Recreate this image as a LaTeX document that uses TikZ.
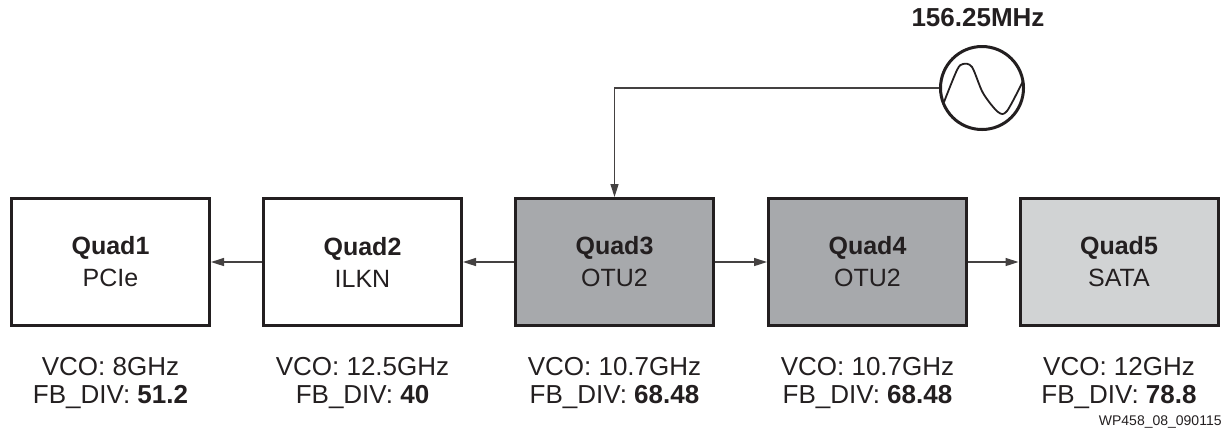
\documentclass[tikz,border=0pt]{standalone}
\usepackage{fontspec}
\setmainfont{Liberation Sans}
\usetikzlibrary{arrows.meta,positioning}
\definecolor{inkdark}{HTML}{231F20}
\definecolor{quadgray}{HTML}{A7A9AC}
\definecolor{quadlight}{HTML}{D1D3D4}
\begin{document}
\begin{tikzpicture}[x=0.5pt, y=-0.5pt,
  quad/.style={draw=inkdark, line width=1.5pt, minimum width=99pt, minimum height=63.5pt,
    inner sep=0pt, align=center, text=inkdark, font=\fontsize{12.5}{16}\selectfont,
    execute at begin node=\rule{0pt}{13.5pt}},
  vco/.style={inner sep=0pt, align=center, text=inkdark, font=\fontsize{13}{14}\selectfont},
  link/.style={draw=inkdark!85, line width=0.75pt, -{Triangle[length=6.5pt,width=4pt]}}]
\useasboundingbox (0,0) rectangle (1225,436);

% ===== Quads =====
\node[quad] (q1) at (110.5,262) {\textbf{Quad1}\\PCIe};
\node[quad] (q2) at (362.5,262) {\textbf{Quad2}\\ILKN};
\node[quad, fill=quadgray] (q3) at (614.5,262) {\textbf{Quad3}\\OTU2};
\node[quad, fill=quadgray] (q4) at (867.5,262) {\textbf{Quad4}\\OTU2};
\node[quad, fill=quadlight] (q5) at (1119,262) {\textbf{Quad5}\\SATA};

\draw[link] (q2) -- (q1);
\draw[link] (q3) -- (q2);
\draw[link] (q3) -- (q4);
\draw[link] (q4) -- (q5);

% ===== VCO settings =====
\node[vco, below=15pt of q1] (v1) {VCO: 8GHz\\FB\_DIV: \textbf{51.2}};
\node[vco, below=15pt of q2] (v2) {VCO: 12.5GHz\\FB\_DIV: \textbf{40}};
\node[vco, below=15pt of q3] (v3) {VCO: 10.7GHz\\FB\_DIV: \textbf{68.48}};
\node[vco, below=15pt of q4] (v4) {VCO: 10.7GHz\\FB\_DIV: \textbf{68.48}};
\node[vco, below=15pt of q5] (v5) {VCO: 12GHz\\FB\_DIV: \textbf{78.8}};

% ===== Reference clock =====
\node[circle, draw=inkdark, line width=1.5pt, minimum size=41.5pt, inner sep=0pt] (osc) at (982,88) {};
\begin{scope}[shift={(osc.center)}]
  \draw[inkdark, line width=0.9pt] plot[smooth] coordinates
    {(-38,14) (-25,-18) (-19,-24) (-10,-21) (1,5) (16,24) (25,23) (41,-7)};
\end{scope}
\node[inner sep=0pt, text=inkdark, font=\fontsize{13}{14}\selectfont\bfseries,
  above=9pt of osc, xshift=-2pt] (freq) {156.25MHz};
\draw[link] (osc.west) -| (q3.north);

\node[anchor=base east, inner sep=0pt, text=inkdark, font=\fontsize{7}{8}\selectfont] (tag)
  at (1222,425) {WP458\_08\_090115};

\end{tikzpicture}
\end{document}
